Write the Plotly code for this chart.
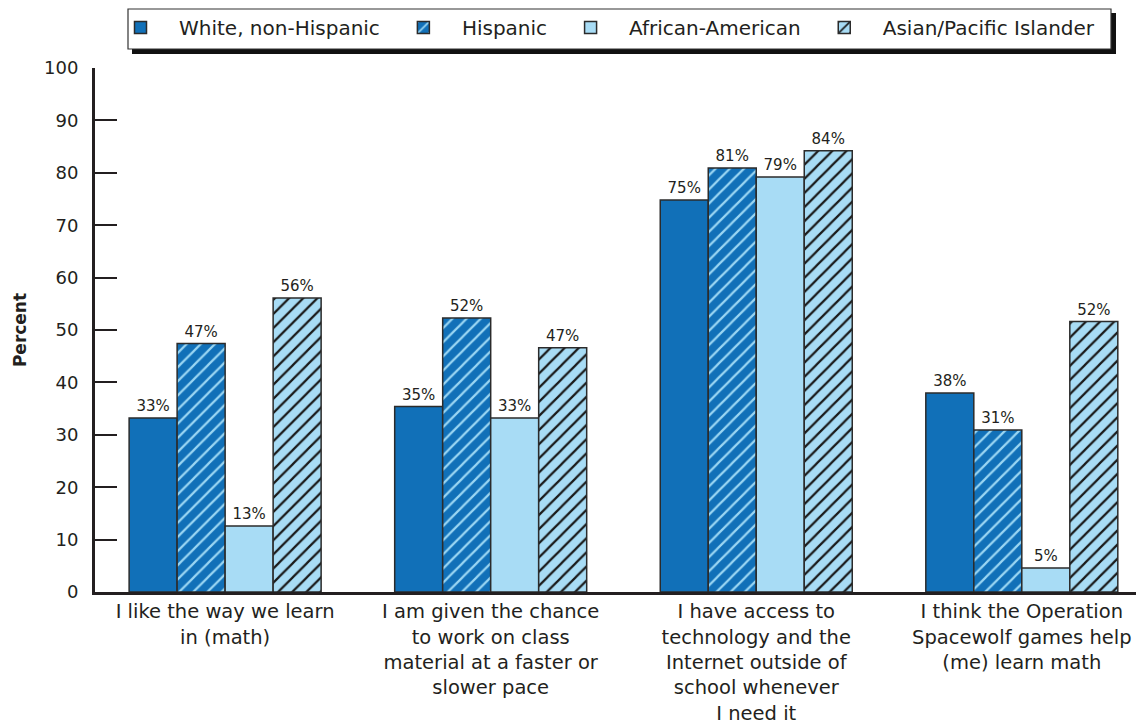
import plotly.graph_objects as go

categories = [
    "I like the way we learn<br>in (math)",
    "I am given the chance<br>to work on class<br>material at a faster or<br>slower pace",
    "I have access to<br>technology and the<br>Internet outside of<br>school whenever<br>I need it",
    "I think the Operation<br>Spacewolf games help<br>(me) learn math",
]
series_names = ["White, non-Hispanic", "Hispanic", "African-American", "Asian/Pacific Islander"]
white = [33.2, 35.4, 74.8, 38.0]
hispanic = [47.4, 52.3, 80.9, 30.9]
african_american = [12.6, 33.2, 79.2, 4.6]
asian = [56.1, 46.6, 84.2, 51.6]

DARK = "#1170b8"
LIGHT = "#a8dcf5"
EDGE = "#2b2b2b"
TXT = "#231f20"
FONT = "DejaVu Sans"

styles = [
    dict(color=DARK, pattern=None),
    dict(color=DARK, pattern=dict(shape="/", bgcolor=DARK, fgcolor="#9ad6f3", size=10, solidity=0.22, fillmode="replace")),
    dict(color=LIGHT, pattern=None),
    dict(color=LIGHT, pattern=dict(shape="/", bgcolor=LIGHT, fgcolor="#1a1a1a", size=10, solidity=0.22, fillmode="replace")),
]

fig = go.Figure()
for name, vals, st in zip(series_names, [white, hispanic, african_american, asian], styles):
    marker = dict(color=st["color"], line=dict(color=EDGE, width=1.5))
    if st["pattern"]:
        marker["pattern"] = st["pattern"]
    fig.add_trace(go.Bar(
        name=name, x=categories, y=vals, marker=marker,
        texttemplate="%{y:.0f}%", textposition="outside", cliponaxis=False,
        textfont=dict(size=15, color=TXT, family=FONT),
    ))

# page body has an 8px margin: figure is drawn at (8, 8)
W, H = 1138, 716
L, R, T, B = 87, 10, 60, 132
PW, PH = W - L - R, H - T - B


def px_x(fx):
    return (fx - L) / PW


def px_y(fy):
    return (H - B - fy) / PH


# legend frame: drop shadow, then white box with border
fig.add_shape(type="rect", xref="paper", yref="paper",
              x0=px_x(124), x1=px_x(1108), y0=px_y(46), y1=px_y(5),
              fillcolor="#111111", line=dict(width=0), layer="above")
fig.add_shape(type="rect", xref="paper", yref="paper",
              x0=px_x(120), x1=px_x(1103), y0=px_y(41), y1=px_y(1),
              fillcolor="white", line=dict(color="#333333", width=1.2), layer="above")

fig.update_layout(
    width=W, height=H,
    margin=dict(l=L, r=R, t=T, b=B),
    paper_bgcolor="white", plot_bgcolor="white",
    barmode="group", bargap=0.277, bargroupgap=0,
    font=dict(family=FONT, color=TXT),
    showlegend=True,
    legend=dict(orientation="h", xref="container", yref="container",
                x=94 / W, xanchor="left", y=1.0, yanchor="top",
                bgcolor="rgba(0,0,0,0)", borderwidth=0, itemwidth=67,
                font=dict(size=20, color=TXT, family=FONT), traceorder="normal"),
    xaxis=dict(range=[-0.49, 3.43], showline=True, linecolor=TXT, linewidth=3, automargin=False,
               ticks="", tickfont=dict(size=19.5, color=TXT, family=FONT), showgrid=False),
    yaxis=dict(range=[0, 100], dtick=10, showline=True, linecolor=TXT, linewidth=3, automargin=False,
               ticks="inside", ticklen=22, tickwidth=1.5, tickcolor=TXT, ticklabelstandoff=10,
               tickfont=dict(size=18, color=TXT, family=FONT), showgrid=False, zeroline=False,
               title=dict(text="<b>Percent</b>", font=dict(size=17, color=TXT, family=FONT), standoff=14)),
)
fig.write_html("out.html")
